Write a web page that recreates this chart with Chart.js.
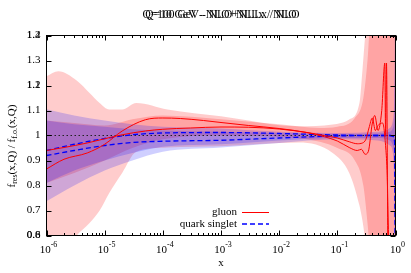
<!DOCTYPE html>
<html>
<head>
<meta charset="utf-8">
<script src="https://cdn.jsdelivr.net/npm/chart.js@4.4.1/dist/chart.umd.min.js"></script>
<style>
  html, body { margin: 0; padding: 0; background: #fff; }
</style>
</head>
<body>
<canvas id="ratio" width="411" height="273"></canvas>
<script>
// titres superposes (deux figures Q=10 et Q=100 imprimees l'une sur l'autre)
const titleTexts = ['Q=10 GeV - NLO+NLLx / NLO', 'Q=100 GeV - NLO+NLLx / NLO'];
const legendLabels = ['gluon', 'quark singlet'];

// graduations
const decades = [1e-6, 1e-5, 1e-4, 1e-3, 1e-2, 1e-1, 1];
const altYValues = [1.4, 1.2, 0.6];
const altYLabels = ['1.2', '1.1', '0.8'];

// gluon (deux courbes)
const gluonA_x = [1e-6, 2e-6, 5e-6, 1e-5, 2e-5, 5e-5, 1e-4, 2e-4, 5e-4, 1e-3, 3e-3, 1e-2, 3e-2, 0.06, 0.1, 0.16, 0.22, 0.26, 0.3, 0.34, 0.4, 0.44, 0.5, 0.58, 0.655, 0.675, 0.70, 0.74];
const gluonA_y = [0.866, 0.905, 0.93, 0.965, 1.018, 1.063, 1.07, 1.068, 1.06, 1.052, 1.04, 1.028, 1.012, 0.995, 0.978, 0.952, 0.94, 0.945, 0.925, 0.935, 1.05, 1.08, 1.02, 1.10, 1.29, 1.0, 1.29, 0.5];
const gluonB_x = [1e-6, 2e-6, 5e-6, 1e-5, 2e-5, 5e-5, 1e-4, 3e-4, 1e-3, 3e-3, 1e-2, 3e-2, 0.06, 0.1, 0.16, 0.22, 0.27, 0.31, 0.35, 0.4, 0.45, 0.5, 0.6, 0.68, 0.72, 0.76, 0.8];
const gluonB_y = [0.94, 0.952, 0.97, 0.987, 1.003, 1.018, 1.025, 1.03, 1.034, 1.033, 1.026, 1.012, 1.0, 0.99, 0.975, 0.967, 0.97, 0.985, 1.03, 1.07, 1.02, 1.04, 1.05, 0.95, 0.84, 0.6, 0.5];

// quark singlet (deux courbes)
const quark_x = [1e-6, 3e-6, 1e-5, 3e-5, 1e-4, 1e-3, 1e-2, 0.1, 0.5, 0.8, 0.9, 0.95, 0.975, 0.99, 1];
const quarkA_y = [0.94, 0.965, 0.988, 1.003, 1.01, 1.012, 1.008, 1.002, 1.0, 1.0, 0.998, 0.99, 0.95, 0.6, 0.4];
const quarkB_y = [0.92, 0.94, 0.96, 0.972, 0.977, 0.981, 0.99, 0.998, 1.0, 1.0, 0.998, 0.985, 0.93, 0.6, 0.4];

// ligne de reference
const ref_x = [1e-6, 1];
const ref_y = [1, 1];

// bandes d'incertitude gluon
const pink_x = [1e-6, 1.6e-6, 3.3e-6, 5.5e-6, 8.2e-6, 1.2e-5, 2e-5, 3.5e-5, 1.2e-4, 1e-3, 2.2e-2, 8.3e-2, 0.16, 0.24, 0.27, 0.32, 1];
const pink_hi = [1.237, 1.257, 1.22, 1.17, 1.13, 1.104, 1.104, 1.13, 1.104, 1.077, 1.037, 1.044, 1.064, 1.13, 1.26, 1.45, 1.6];
const pink_lo = [0.40, 0.50, 0.60, 0.65, 0.70, 0.77, 0.85, 0.935, 0.952, 0.957, 0.972, 0.93, 0.85, 0.72, 0.66, 0.55, 0.4];
const red_x = [1e-6, 3e-6, 1e-5, 3e-5, 1e-4, 1e-3, 1e-2, 0.05, 0.1, 0.2, 0.28, 0.33, 0.38, 1];
const red_hi = [1.06, 1.05, 1.04, 1.065, 1.08, 1.065, 1.045, 1.03, 1.035, 1.07, 1.15, 1.3, 1.5, 1.6];
const red_lo = [0.81, 0.85, 0.90, 0.95, 0.985, 1.0, 0.995, 0.975, 0.95, 0.9, 0.8, 0.65, 0.5, 0.4];

// bandes d'incertitude quark
const blue_x = [1e-6, 3e-6, 1e-5, 3e-5, 1e-4, 1e-3, 1e-2, 0.1, 0.5, 0.8, 0.9, 0.95, 0.98, 1];
const blueA_hi = [1.105, 1.08, 1.06, 1.045, 1.035, 1.028, 1.015, 1.01, 1.015, 1.03, 1.06, 1.15, 1.5, 1.6];
const blueA_lo = [0.737, 0.80, 0.86, 0.90, 0.935, 0.952, 0.97, 0.985, 0.98, 0.96, 0.93, 0.8, 0.5, 0.4];
const blueB_hi = [1.06, 1.045, 1.035, 1.025, 1.02, 1.015, 1.01, 1.005, 1.008, 1.015, 1.03, 1.08, 1.3, 1.6];
const blueB_lo = [0.81, 0.86, 0.9, 0.93, 0.955, 0.965, 0.98, 0.99, 0.99, 0.98, 0.96, 0.9, 0.6, 0.4];

const SERIF = '"Liberation Serif", "DejaVu Serif", serif';

const pts = (xs, ys) => xs.map((x, i) => ({ x: x, y: ys[i] }));

const line = (label, xs, ys, color, dash, width) => ({
  label: label,
  data: pts(xs, ys),
  borderColor: color,
  borderWidth: width,
  borderDash: dash,
  pointRadius: 0,
  fill: false,
  cubicInterpolationMode: 'monotone'
});

const band = (xs, ys, color, fill) => ({
  data: pts(xs, ys),
  borderWidth: 0,
  borderColor: 'rgba(0,0,0,0)',
  backgroundColor: color,
  pointRadius: 0,
  fill: fill,
  cubicInterpolationMode: 'monotone'
});

const PINK = 'rgba(255, 0, 0, 0.2)';
const BLUE = 'rgba(0, 0, 255, 0.19)';

// le premier dataset est dessine par-dessus
const datasets = [
  line('gluon', gluonA_x, gluonA_y, '#ff0000', [], 1),
  line('gluon', gluonB_x, gluonB_y, '#ff0000', [], 1),
  line('quark singlet', quark_x, quarkA_y, '#0000ff', [5, 3], 1.3),
  line('quark singlet', quark_x, quarkB_y, '#0000ff', [5, 3], 1.3),
  line('ref', ref_x, ref_y, '#222', [1.5, 2.5], 1),
  band(blue_x, blueB_hi, BLUE, '+1'),
  band(blue_x, blueB_lo, BLUE, false),
  band(blue_x, blueA_hi, BLUE, '+1'),
  band(blue_x, blueA_lo, BLUE, false),
  band(red_x, red_hi, PINK, '+1'),
  band(red_x, red_lo, PINK, false),
  band(pink_x, pink_hi, PINK, '+1'),
  band(pink_x, pink_lo, PINK, false)
];

// cadre, graduations interieures, titres, legende
const overlay = {
  id: 'overlay',
  afterDraw(chart) {
    const ctx = chart.ctx;
    const a = chart.chartArea;
    const xs = chart.scales.x, ys = chart.scales.y;
    ctx.save();
    ctx.strokeStyle = '#000';
    ctx.lineWidth = 1;
    ctx.beginPath();
    decades.forEach(d => {
      const px = Math.round(xs.getPixelForValue(d)) + 0.5;
      ctx.moveTo(px, a.bottom); ctx.lineTo(px, a.bottom - 5);
      ctx.moveTo(px, a.top); ctx.lineTo(px, a.top + 5);
      if (d < 1) {
        for (let k = 2; k < 10; k++) {
          const pm = Math.round(xs.getPixelForValue(d * k)) + 0.5;
          ctx.moveTo(pm, a.bottom); ctx.lineTo(pm, a.bottom - 2.5);
          ctx.moveTo(pm, a.top); ctx.lineTo(pm, a.top + 2.5);
        }
      }
    });
    ys.ticks.forEach(t => {
      const py = Math.round(ys.getPixelForValue(t.value)) + 0.5;
      ctx.moveTo(a.left, py); ctx.lineTo(a.left + 5, py);
      ctx.moveTo(a.right, py); ctx.lineTo(a.right - 5, py);
    });
    ctx.stroke();
    ctx.strokeRect(a.left, a.top, a.right - a.left, a.bottom - a.top);

    ctx.fillStyle = '#000';
    // etiquettes de x : 10^n
    decades.forEach(d => {
      const e = String(Math.round(Math.log10(d)));
      ctx.font = '11px ' + SERIF;
      const wBase = ctx.measureText('10').width;
      ctx.font = '8px ' + SERIF;
      const wExp = ctx.measureText(e).width;
      const cx = xs.getPixelForValue(d);
      const x0 = cx - (wBase + wExp) / 2 + 2;
      ctx.textAlign = 'left';
      ctx.textBaseline = 'alphabetic';
      ctx.font = '11px ' + SERIF;
      ctx.fillText('10', x0, a.bottom + 17);
      ctx.font = '8px ' + SERIF;
      ctx.fillText(e, x0 + wBase, a.bottom + 11);
    });

    // etiquettes de y de la seconde figure
    ctx.font = '11px ' + SERIF;
    ctx.textAlign = 'right';
    ctx.textBaseline = 'middle';
    altYValues.forEach((v, i) => {
      ctx.fillText(altYLabels[i], a.left - 6, ys.getPixelForValue(v));
    });

    // titres superposes
    ctx.textAlign = 'center';
    ctx.font = '11.5px ' + SERIF;
    titleTexts.forEach(t => ctx.fillText(t, (a.left + a.right) / 2, 15));

    // titre de l'axe y avec indices
    const parts = [['f', 0], ['res', 1], ['(x,Q) / f', 0], ['f.o.', 1], ['(x,Q)', 0]];
    let total = 0;
    parts.forEach(p => {
      ctx.font = (p[1] ? '8px ' : '11px ') + SERIF;
      total += ctx.measureText(p[0]).width;
    });
    ctx.translate(12, 146);
    ctx.rotate(-Math.PI / 2);
    ctx.textAlign = 'left';
    ctx.textBaseline = 'middle';
    let pos = -total / 2;
    parts.forEach(p => {
      ctx.font = (p[1] ? '8px ' : '11px ') + SERIF;
      ctx.fillText(p[0], pos, p[1] ? 3 : 0);
      pos += ctx.measureText(p[0]).width;
    });
    ctx.setTransform(1, 0, 0, 1, 0, 0);

    // legende
    ctx.font = '11px ' + SERIF;
    ctx.textAlign = 'right';
    ctx.textBaseline = 'middle';
    const legendStyles = [['#ff0000', []], ['#0000ff', [5, 3]]];
    legendLabels.forEach((lab, i) => {
      const ly = 212.5 + i * 11.5;
      ctx.fillText(lab, 237, ly);
      ctx.strokeStyle = legendStyles[i][0];
      ctx.setLineDash(legendStyles[i][1]);
      ctx.lineWidth = i ? 1.3 : 1;
      ctx.beginPath();
      ctx.moveTo(242, ly); ctx.lineTo(269, ly);
      ctx.stroke();
    });
    ctx.restore();
  }
};

const ctx = document.getElementById('ratio').getContext('2d');
new Chart(ctx, {
  type: 'line',
  data: { datasets: datasets },
  options: {
    responsive: false,
    animation: false,
    layout: { padding: { left: 0, right: 15.5, top: 35.5, bottom: 0 } },
    plugins: {
      legend: { display: false },
      title: { display: false },
      tooltip: { enabled: false },
      filler: { propagate: false }
    },
    scales: {
      x: {
        type: 'logarithmic',
        min: 1e-6,
        max: 1,
        grid: { display: false, drawTicks: false },
        border: { display: false },
        ticks: { display: false },
        afterBuildTicks: s => { s.ticks = decades.map(v => ({ value: v })); },
        afterFit: s => { s.height = 37.5; },
        title: {
          display: true,
          text: 'x',
          color: '#000',
          font: { family: SERIF, size: 11 },
          padding: { top: 0, bottom: 3 }
        }
      },
      y: {
        min: 0.6,
        max: 1.4,
        grid: { display: false, drawTicks: false },
        border: { display: false },
        afterFit: s => { s.width = 46.5; },
        ticks: {
          stepSize: 0.1,
          padding: 6,
          color: '#000',
          font: { family: SERIF, size: 11 },
          callback: v => {
            const r = Math.round(v * 10) / 10;
            return r === 1 ? '1' : r.toFixed(1);
          }
        }
      }
    }
  },
  plugins: [overlay]
});
</script>
</body>
</html>
